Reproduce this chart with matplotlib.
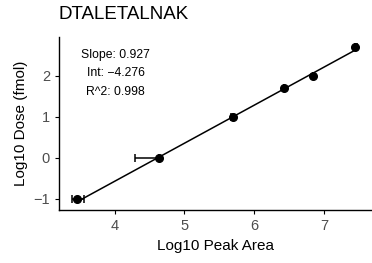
import numpy as np
import matplotlib.pyplot as plt

plt.rcParams['font.family'] = ['Liberation Sans', 'DejaVu Sans']

# data
peak_area = [3.46, 4.64, 5.70, 6.43, 6.84, 7.44]
dose = [-1.0, 0.0, 1.0, 1.699, 2.0, 2.699]
err_lo = [0.07, 0.35, 0.03, 0.0, 0.0, 0.0]
err_hi = [0.10, 0.0, 0.0, 0.0, 0.0, 0.04]
slope = 0.927
intercept = -4.276
r2 = 0.998
title = 'DTALETALNAK'

fig = plt.figure(figsize=(3.72, 2.63), dpi=100)
ax = fig.add_axes([0.1586, 0.2015, 0.8414, 0.658])

xfit = np.array([min(peak_area), max(peak_area)])
ax.plot(xfit, slope * xfit + intercept, color='black', linewidth=1.1, zorder=2)
ax.errorbar(peak_area, dose, xerr=[err_lo, err_hi], fmt='o', color='black',
            markersize=5.5, capsize=3, elinewidth=1.1, capthick=1.1, zorder=3)

ann = [f'Slope: {slope:.3f}', f'Int: \u2212{abs(intercept):.3f}', f'R^2: {r2:.3f}']
for txt, yy in zip(ann, [2.52, 2.07, 1.61]):
    ax.text(4.01, yy, txt, ha='center', va='center', fontsize=8.8)

ax.set_xlim(3.2, 7.69)
ax.set_ylim(-1.27, 2.95)
ax.set_xticks([4, 5, 6, 7])
ax.set_yticks([-1, 0, 1, 2])
ax.set_yticklabels(['\u22121', '0', '1', '2'])
ax.tick_params(labelsize=10.5, labelcolor='#4D4D4D', length=3, width=0.8)
for s in ['top', 'right']:
    ax.spines[s].set_visible(False)
for s in ['left', 'bottom']:
    ax.spines[s].set_linewidth(1.0)
ax.set_xlabel('Log10 Peak Area', fontsize=11)
ax.set_ylabel('Log10 Dose (fmol)', fontsize=11)
fig.text(0.156, 0.945, title, fontsize=13.5, va='center', ha='left')

fig.savefig('out.png', dpi=100)
